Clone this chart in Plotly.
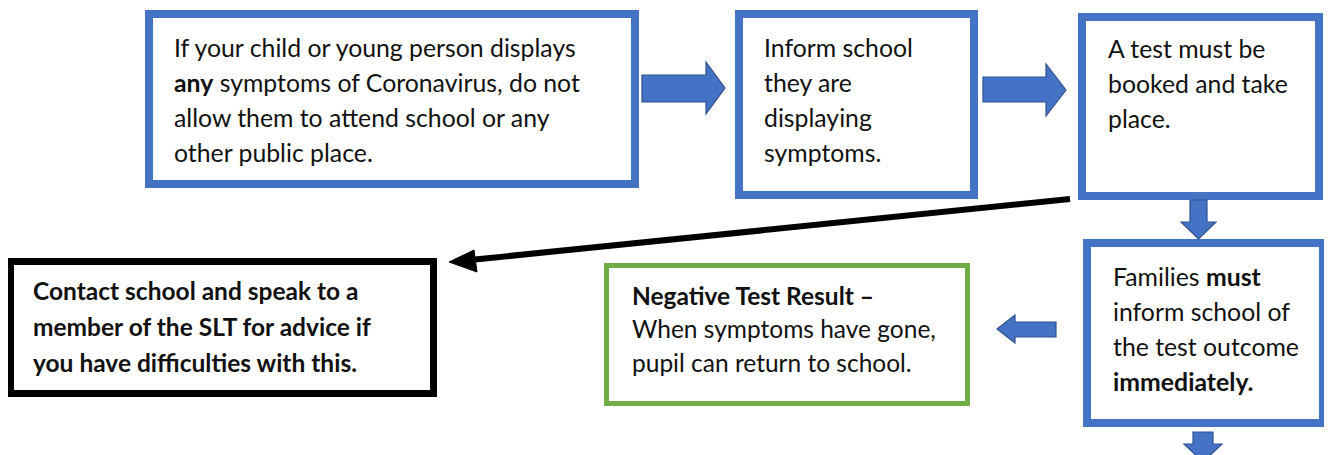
import plotly.graph_objects as go

# ---- content ----
box1_lines = ["If your child or young person displays",
              "<b>any</b> symptoms of Coronavirus, do not",
              "allow them to attend school or any",
              "other public place."]
box2_lines = ["Inform school", "they are", "displaying", "symptoms."]
box3_lines = ["A test must be", "booked and take", "place."]
box4_lines = ["Families <b>must</b>", "inform school of", "the test outcome", "<b>immediately.</b>"]
box5_lines = ["<b>Contact school and speak to a</b>",
              "<b>member of the SLT for advice if</b>",
              "<b>you have difficulties with this.</b>"]
box6_lines = ["<b>Negative Test Result –</b>",
              "When symptoms have gone,",
              "pupil can return to school."]

BLUE = "#4472C4"
BLUE_DARK = "#2F528F"
GREEN = "#70AD47"
W, H = 1332, 455
OFF = 8  # page body margin
FONT = "Lato"

fig = go.Figure()
shapes = []
annotations = []


def box(x0, y0, x1, y1, color, width):
    h = width / 2
    shapes.append(dict(type="rect", xref="x", yref="y",
                       x0=x0 + h, y0=y0 + h, x1=x1 - h, y1=y1 - h,
                       line=dict(color=color, width=width),
                       fillcolor="white", layer="above"))


def text_lines(lines, x, y0, dy, size, color="#111111"):
    for i, t in enumerate(lines):
        annotations.append(dict(x=x, y=y0 + i * dy, xref="x", yref="y",
                                text=t, showarrow=False, xanchor="left",
                                yanchor="middle",
                                font=dict(family=FONT, size=size, color=color)))


def poly(points, fill, line_color, lw=1.2):
    d = "M " + " L ".join(f"{px},{py}" for px, py in points) + " Z"
    shapes.append(dict(type="path", path=d, xref="x", yref="y",
                       fillcolor=fill, line=dict(color=line_color, width=lw),
                       layer="above"))


# boxes
box(145, 10, 639, 188, BLUE, 8)
box(735, 10, 978, 199, BLUE, 8)
box(1078, 13, 1323, 200, BLUE, 8)
box(1083, 239, 1327, 427, BLUE, 8)
box(7, 258, 437, 397, "black", 7)
box(604, 263, 970, 406, GREEN, 5)

# texts
text_lines(box1_lines, 172, 47, 35, 24.8)
text_lines(box2_lines, 762, 47, 35, 24.8)
text_lines(box3_lines, 1106, 48, 35, 24.8)
text_lines(box4_lines, 1111, 276, 35, 24.8)
text_lines(box5_lines, 31, 290, 36, 24.5)
text_lines(box6_lines, 630, 295, 33.5, 24.5)

# right block arrows
poly([(642, 75), (706, 75), (706, 62), (725, 88), (706, 114), (706, 102), (642, 102)], BLUE, BLUE_DARK)
poly([(983, 77), (1046, 77), (1046, 64), (1066, 90), (1046, 116), (1046, 102), (983, 102)], BLUE, BLUE_DARK)
# down arrows
poly([(1190, 200), (1207, 200), (1207, 222), (1216, 222), (1198.5, 239), (1181, 222), (1190, 222)], BLUE, BLUE_DARK)
poly([(1193, 432), (1213, 432), (1213, 444), (1222, 444), (1203, 462), (1184, 444), (1193, 444)], BLUE, BLUE_DARK)
# left arrow
poly([(1056, 322), (1015, 322), (1015, 315), (997, 329), (1015, 343), (1015, 337), (1056, 337)], BLUE, BLUE_DARK)

# black arrow
shapes.append(dict(type="line", xref="x", yref="y", x0=1070, y0=199, x1=470, y1=260,
                   line=dict(color="black", width=6), layer="above"))
poly([(449, 262), (474, 250), (477, 272)], "black", "black", 1)

fig.update_layout(
    width=W, height=H, margin=dict(l=0, r=0, t=0, b=0),
    paper_bgcolor="white", plot_bgcolor="white",
    xaxis=dict(range=[OFF, W + OFF], visible=False, fixedrange=True),
    yaxis=dict(range=[H + OFF, OFF], visible=False, fixedrange=True),
    shapes=shapes, annotations=annotations, showlegend=False,
)
fig.write_html("out.html")
